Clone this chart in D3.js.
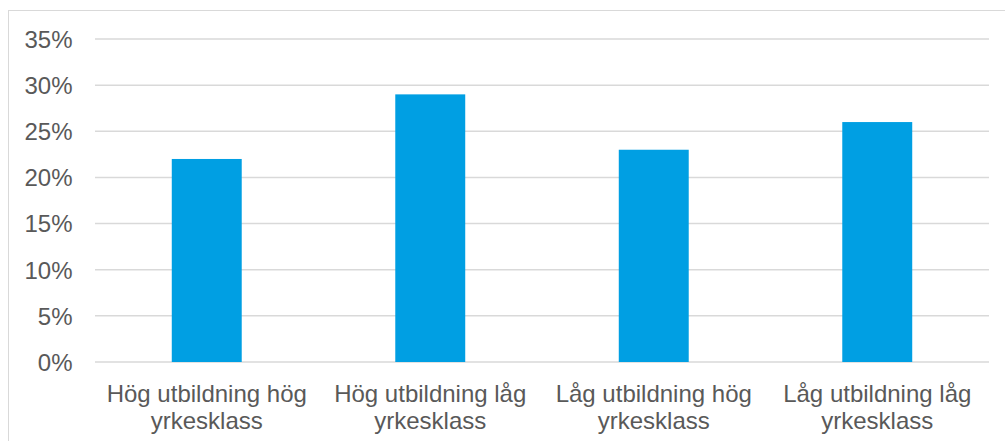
<!DOCTYPE html>
<html>
<head>
<meta charset="utf-8">
<script src="https://cdn.jsdelivr.net/npm/d3@7"></script>
<style>
  html, body { margin: 0; padding: 0; background: #ffffff; }
  svg { display: block; }
  text { font-family: "Liberation Sans", Arial, sans-serif; fill: #595959; }
</style>
</head>
<body>
<svg id="chart" width="1005" height="441"></svg>
<script>
// Andel per grupp (utbildning × yrkesklass)
const categories = [
  ["Hög utbildning hög", "yrkesklass"],
  ["Hög utbildning låg", "yrkesklass"],
  ["Låg utbildning hög", "yrkesklass"],
  ["Låg utbildning låg", "yrkesklass"]
];
const values = [0.22, 0.29, 0.23, 0.26];
const yTicks = [0, 0.05, 0.10, 0.15, 0.20, 0.25, 0.30, 0.35];

const W = 1005, H = 441;
const plot = { left: 95, right: 989, top: 39, bottom: 362 };
const fontSize = 24;

const svg = d3.select("#chart");

// Chart frame
svg.append("rect")
  .attr("x", 8.5).attr("y", 10.5)
  .attr("width", W + 10).attr("height", H + 10)
  .attr("fill", "none")
  .attr("stroke", "#d9d9d9")
  .attr("stroke-width", 1);

const x = d3.scaleBand()
  .domain(d3.range(categories.length))
  .range([plot.left, plot.right])
  .padding(0);

const y = d3.scaleLinear()
  .domain([0, 0.35])
  .range([plot.bottom, plot.top]);

// Gridlines
svg.append("g")
  .selectAll("line")
  .data(yTicks)
  .join("line")
  .attr("x1", plot.left).attr("x2", plot.right)
  .attr("y1", d => y(d)).attr("y2", d => y(d))
  .attr("stroke", "#d9d9d9")
  .attr("stroke-width", 1.5);

// Y axis labels
const yAxis = d3.axisLeft(y)
  .tickValues(yTicks)
  .tickFormat(d3.format(".0%"))
  .tickSize(0)
  .tickPadding(0);

const yG = svg.append("g")
  .attr("transform", `translate(${72.5},0)`)
  .call(yAxis);
yG.select(".domain").remove();
yG.selectAll("text")
  .attr("font-size", fontSize)
  .attr("font-family", null)
  .attr("dy", "0.35em")
  .style("fill", "#595959");

// Bars
const barW = x.bandwidth() * 0.313;
svg.append("g")
  .selectAll("rect")
  .data(values)
  .join("rect")
  .attr("x", (d, i) => x(i) + (x.bandwidth() - barW) / 2)
  .attr("y", d => y(d))
  .attr("width", barW)
  .attr("height", d => y(0) - y(d))
  .attr("fill", "#009fe3");

// Category labels (two lines each)
const lab = svg.append("g")
  .selectAll("text")
  .data(categories)
  .join("text")
  .attr("text-anchor", "middle")
  .attr("font-size", fontSize)
  .attr("x", (d, i) => x(i) + x.bandwidth() / 2)
  .attr("y", 401.5);
lab.selectAll("tspan")
  .data(d => d)
  .join("tspan")
  .attr("x", function () { return d3.select(this.parentNode).attr("x"); })
  .attr("dy", (d, i) => i === 0 ? 0 : 27.3)
  .text(d => d);
</script>
</body>
</html>
